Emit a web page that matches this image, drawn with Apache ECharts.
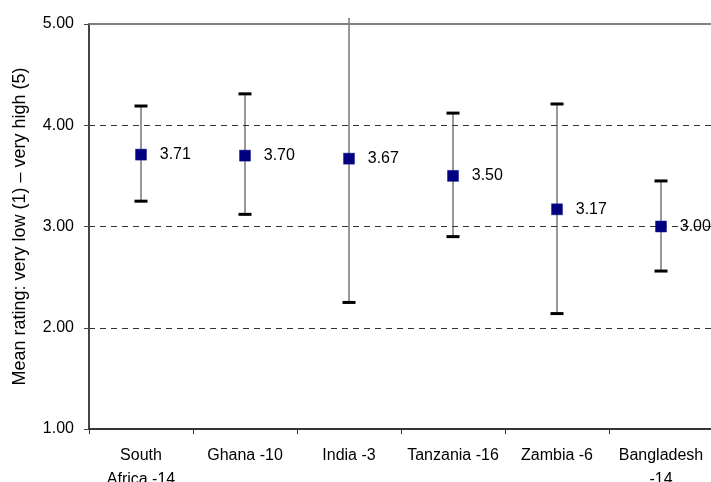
<!DOCTYPE html>
<html>
<head>
<meta charset="utf-8">
<script src="https://cdn.jsdelivr.net/npm/echarts@6/dist/echarts.min.js"></script>
<style>
  html, body { margin: 0; padding: 0; background: #fff; }
  #chart { width: 711px; height: 482px; }
</style>
</head>
<body>
<div id="chart"></div>
<script>
// Countries (with number of respondents) on the category axis
const categories = ['South\nAfrica -14', 'Ghana -10', 'India -3', 'Tanzania -16', 'Zambia -6', 'Bangladesh\n-14'];
// Mean rating per country
const means = [3.71, 3.70, 3.67, 3.50, 3.17, 3.00];
// Lower and upper ends of the error bars
const lows  = [3.25, 3.12, 2.25, 2.90, 2.14, 2.56];
const highs = [4.19, 4.31, 5.06, 4.12, 4.21, 3.45];
// Value axis range and ticks
const yMin = 1, yMax = 5, yStep = 1;

const chart = echarts.init(document.getElementById('chart'), null, { renderer: 'canvas' });
const font = '"Liberation Sans", Arial, sans-serif';

const option = {
  animation: false,
  backgroundColor: '#ffffff',
  textStyle: { fontFamily: font },
  grid: { left: 89, top: 24, right: -2, bottom: 53, containLabel: false, outerBoundsMode: 'none' },
  xAxis: {
    type: 'category',
    data: categories,
    boundaryGap: true,
    axisLine: { show: true, lineStyle: { color: '#333333', width: 2 } },
    axisTick: { show: true, length: 5, lineStyle: { color: '#333333', width: 1 } },
    axisLabel: { color: '#000', fontSize: 16, fontFamily: font, margin: 15, lineHeight: 24, interval: 0 },
    splitLine: { show: false }
  },
  yAxis: {
    type: 'value',
    min: yMin,
    max: yMax,
    interval: yStep,
    name: 'Mean rating: very low (1) \u2013 very high (5)',
    nameLocation: 'middle',
    nameGap: 60,
    nameTextStyle: { color: '#000', fontSize: 18, fontFamily: font },
    axisLine: { show: true, lineStyle: { color: '#444444', width: 2 } },
    axisTick: { show: true, inside: false, length: 5, lineStyle: { color: '#444444', width: 1 } },
    axisLabel: {
      color: '#000', fontSize: 16, fontFamily: font, margin: 15,
      formatter: v => v.toFixed(2)
    },
    splitLine: { show: true, lineStyle: { color: '#333333', type: [6, 5], width: 1 } }
  },
  series: [
    {
      // Error bars: thin stem with thick caps
      type: 'custom',
      z: 2,
      clip: false,
      data: categories.map((c, i) => [i, lows[i], highs[i]]),
      renderItem: function (params, api) {
        const x = api.coord([api.value(0), 0])[0];
        const lo = api.value(1), hi = api.value(2);
        const pLo = api.coord([api.value(0), lo]);
        const pHi = api.coord([api.value(0), hi]);
        const capW = 6.5;
        const children = [
          { type: 'line', shape: { x1: x, y1: pLo[1], x2: x, y2: pHi[1] },
            style: { stroke: '#333333', lineWidth: 1 } },
          { type: 'line', shape: { x1: x - capW, y1: pLo[1], x2: x + capW, y2: pLo[1] },
            style: { stroke: '#000', lineWidth: 3 } }
        ];
        if (hi <= yMax) {
          children.push({ type: 'line', shape: { x1: x - capW, y1: pHi[1], x2: x + capW, y2: pHi[1] },
            style: { stroke: '#000', lineWidth: 3 } });
        }
        return { type: 'group', children: children };
      },
      markLine: {
        silent: true,
        symbol: 'none',
        label: { show: false },
        lineStyle: { color: '#808080', type: 'solid', width: 2 },
        data: [{ yAxis: yMax }]
      }
    },
    {
      // Mean markers with value labels
      type: 'scatter',
      z: 3,
      data: means,
      symbol: 'rect',
      symbolSize: 11,
      itemStyle: { color: '#000080', borderColor: '#1a1a8c', borderWidth: 0.5, opacity: 1 },
      label: {
        show: true,
        position: 'right',
        distance: 13,
        color: '#000',
        fontSize: 16,
        fontFamily: font,
        formatter: p => p.value.toFixed(2)
      }
    }
  ]
};

chart.setOption(option);
</script>
</body>
</html>
